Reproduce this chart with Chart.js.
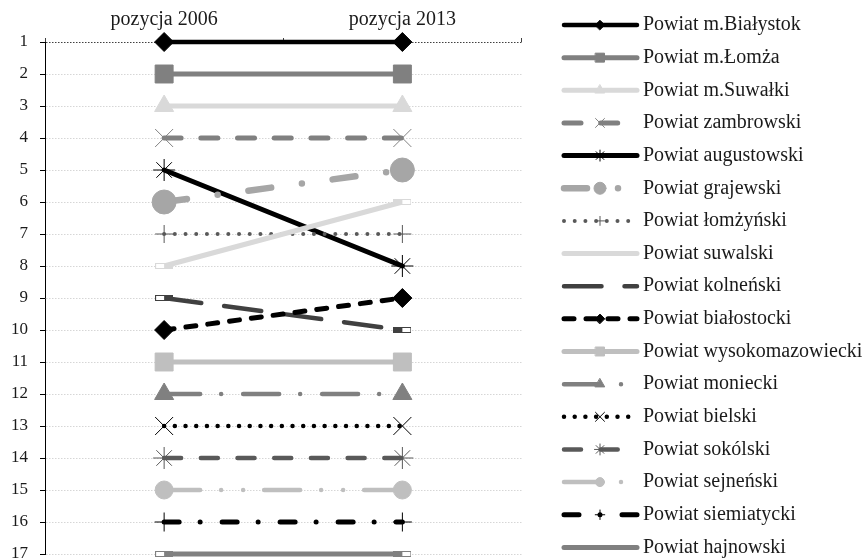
<!DOCTYPE html>
<html>
<head>
<meta charset="utf-8">
<script src="https://cdn.jsdelivr.net/npm/chart.js@4/dist/chart.umd.min.js"></script>
<style>
  html, body { margin: 0; padding: 0; background: #fff; }
  .canvas-container { width: 867px; height: 560px; }
</style>
</head>
<body>
<div class="canvas-container"><canvas id="myChart"></canvas></div>
<script>
"use strict";
const categories = ['pozycja 2006', 'pozycja 2013'];
const districts = [
    'Powiat m.Białystok', 'Powiat m.Łomża', 'Powiat m.Suwałki', 'Powiat zambrowski',
    'Powiat augustowski', 'Powiat grajewski', 'Powiat łomżyński', 'Powiat suwalski',
    'Powiat kolneński', 'Powiat białostocki', 'Powiat wysokomazowiecki', 'Powiat moniecki',
    'Powiat bielski', 'Powiat sokólski', 'Powiat sejneński', 'Powiat siemiatycki',
    'Powiat hajnowski'
];
const rank2006 = [1, 2, 3, 4, 5, 6, 7, 8, 9, 10, 11, 12, 13, 14, 15, 16, 17];
const rank2013 = [1, 2, 3, 4, 8, 5, 7, 6, 10, 9, 11, 12, 13, 14, 15, 16, 17];
const rankTicks = [1, 2, 3, 4, 5, 6, 7, 8, 9, 10, 11, 12, 13, 14, 15, 16, 17];

// colour, line width, dash pattern and marker for every district
const looks = [
    { color: '#000000', width: 4.5, dash: [], marker: 'rectRot', size: 9.5 },
    { color: '#808080', width: 5, dash: [], marker: 'rect', size: 12.7 },
    { color: '#d9d9d9', width: 5, dash: [], marker: 'triangle', size: 11 },
    { color: '#808080', width: 5, dash: [17, 19.7], marker: 'crossRot', size: 12.7, thin: true },
    { color: '#000000', width: 5, dash: [], marker: 'star', size: 11, thin: true },
    { color: '#a6a6a6', width: 6.5, dash: [23, 31, 0, 31], marker: 'circle', size: 12 },
    { color: '#595959', width: 4, dash: [0, 10.7], marker: 'cross', size: 9, thin: true },
    { color: '#d9d9d9', width: 5, dash: [], marker: 'dash' },
    { color: '#404040', width: 4.5, dash: [37.5, 23], marker: 'dash' },
    { color: '#000000', width: 5, dash: [10, 12], marker: 'rectRot', size: 9.5 },
    { color: '#bfbfbf', width: 5, dash: [], marker: 'rect', size: 12.7 },
    { color: '#808080', width: 4.5, dash: [36, 21, 0, 22], marker: 'triangle', size: 11 },
    { color: '#000000', width: 4.5, dash: [0, 10.7], marker: 'crossRot', size: 12.7, thin: true },
    { color: '#595959', width: 4.5, dash: [17, 19.7], marker: 'star', size: 11, thin: true },
    { color: '#bfbfbf', width: 4.5, dash: [36, 21, 0, 22, 0, 21], marker: 'circle', size: 9 },
    { color: '#000000', width: 5, dash: [15, 21, 0, 22], marker: 'cross', size: 9.5, thin: true },
    { color: '#808080', width: 5, dash: [], marker: 'dash' }
];

const serif = 'Liberation Serif';
const textColor = '#1a1a1a';

// small outlined bar used as an end marker; half of it sits under the line
function dashMarker(color, lineSide) {
    const c = document.createElement('canvas');
    c.width = 18;
    c.height = 6;
    const g = c.getContext('2d');
    g.fillStyle = '#ffffff';
    g.fillRect(0, 0, 18, 6);
    g.strokeStyle = color;
    g.lineWidth = 1;
    g.strokeRect(0.5, 0.5, 17, 5);
    g.fillStyle = color;
    if (lineSide > 0) g.fillRect(9, 0.5, 9, 5);
    else g.fillRect(0, 0.5, 9, 5);
    return c;
}

const datasets = districts.map((name, i) => {
    const look = looks[i];
    const ds = {
        label: name,
        data: [rank2006[i], rank2013[i]],
        borderColor: look.color,
        backgroundColor: look.color,
        borderWidth: look.width,
        borderDash: look.dash,
        borderCapStyle: 'round',
        order: -i,
        clip: false,
        pointBackgroundColor: look.color,
        pointBorderColor: look.color,
        pointBorderWidth: 1
    };
    if (look.marker === 'dash') {
        ds.pointStyle = [dashMarker(look.color, 1), dashMarker(look.color, -1)];
        ds.pointRadius = 5;
        ds.legendMarker = false;
    } else {
        ds.pointStyle = look.marker;
        ds.pointRadius = look.size;
        ds.pointBackgroundColor = look.thin ? 'rgba(0,0,0,0)' : look.color;
        ds.legendMarker = true;
    }
    return ds;
});

// legend column on the right
const sideLegend = {
    id: 'sideLegend',
    afterDraw(chart) {
        const ctx = chart.ctx;
        const rowTop = 25;
        const rowGap = 32.65;
        chart.data.datasets.forEach((ds, i) => {
            const y = rowTop + i * rowGap;
            ctx.save();
            ctx.strokeStyle = ds.borderColor;
            ctx.lineWidth = ds.borderWidth;
            ctx.lineCap = 'round';
            ctx.setLineDash(ds.borderDash);
            ctx.beginPath();
            ctx.moveTo(564, y);
            ctx.lineTo(637, y);
            ctx.stroke();
            ctx.setLineDash([]);
            if (ds.legendMarker) {
                ctx.fillStyle = ds.pointBackgroundColor;
                ctx.strokeStyle = ds.pointBorderColor;
                ctx.lineWidth = 1;
                Chart.helpers.drawPoint(ctx, {
                    pointStyle: ds.pointStyle,
                    radius: ds.pointRadius * 0.5,
                    rotation: 0,
                    borderWidth: 1
                }, 600, y);
            }
            ctx.fillStyle = textColor;
            ctx.font = '20px "' + serif + '"';
            ctx.textBaseline = 'middle';
            ctx.textAlign = 'left';
            ctx.fillText(ds.label, 643, y);
            ctx.restore();
        });
    }
};

window.addEventListener('load', function () {
    const ctx = document.getElementById('myChart');
    new Chart(ctx, {
        type: 'line',
        data: { labels: categories, datasets: datasets },
        options: {
            responsive: true,
            maintainAspectRatio: false,
            animation: false,
            events: [],
            layout: { autoPadding: false, padding: { left: 0, right: 345.5, top: 0, bottom: 6 } },
            plugins: {
                legend: { display: false },
                tooltip: { enabled: false }
            },
            scales: {
                x: {
                    position: 'top',
                    offset: true,
                    grid: {
                        offset: true,
                        drawOnChartArea: false,
                        drawTicks: true,
                        tickLength: 4,
                        color: '#404040'
                    },
                    border: { display: false },
                    ticks: {
                        color: textColor,
                        font: { family: serif, size: 20 },
                        padding: 6
                    },
                    afterFit(scale) { scale.height = 42; }
                },
                y: {
                    reverse: true,
                    min: 1,
                    max: 17,
                    afterBuildTicks(scale) {
                        scale.ticks = rankTicks.map(v => ({ value: v }));
                    },
                    ticks: {
                        color: textColor,
                        font: { family: serif, size: 17 },
                        padding: 12
                    },
                    grid: {
                        color: c => (c.tick && c.tick.value === 1 ? '#404040' : '#d6d6d6'),
                        tickColor: '#000000',
                        tickLength: 5,
                        tickBorderDash: [],
                        lineWidth: 1
                    },
                    border: { display: true, color: '#000000', width: 1, dash: [1.5, 1.5] },
                    afterFit(scale) {
                        scale.width = 45;
                        scale.paddingTop = 0;
                        scale.paddingBottom = 0;
                    }
                }
            }
        },
        plugins: [sideLegend]
    });
});
</script>
</body>
</html>
